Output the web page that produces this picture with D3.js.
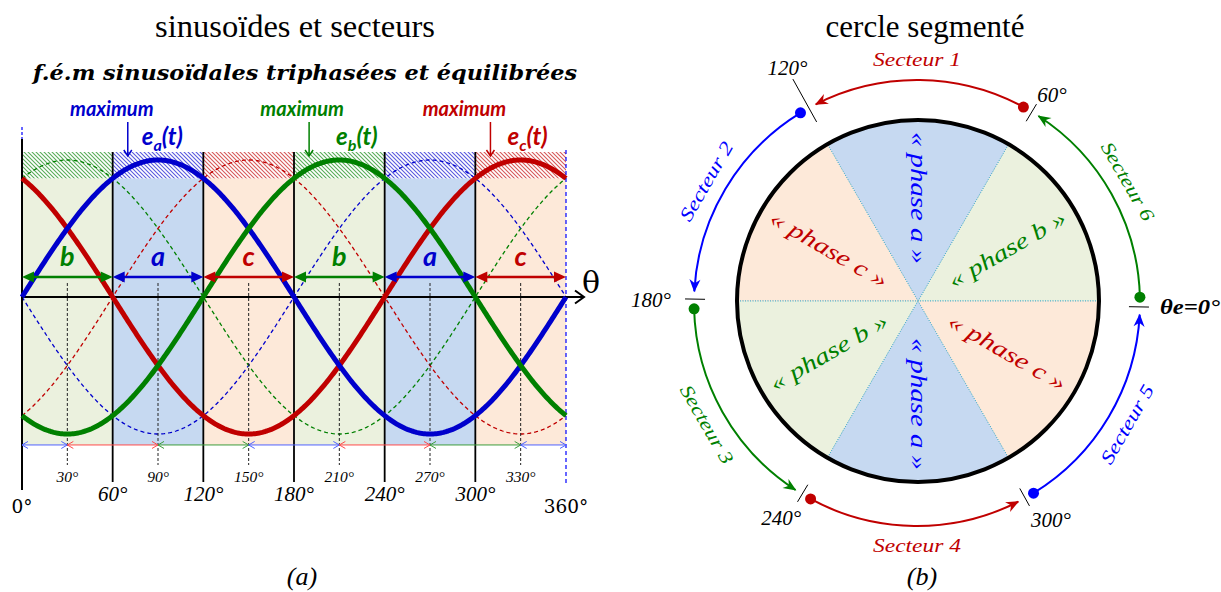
<!DOCTYPE html>
<html>
<head>
<meta charset="utf-8">
<script src="https://cdn.jsdelivr.net/npm/d3@7"></script>
<style>
  html, body { margin: 0; padding: 0; background: #fff; }
  svg { display: block; }
</style>
</head>
<body>
<svg id="fig" width="1221" height="592"></svg>
<script>
// ---------- data ----------
const phaseNames  = ['a', 'b', 'c'];
const phaseShifts = { a: 0, b: 120, c: 240 };           // electrical lag, degrees

const sectorStarts = [0, 60, 120, 180, 240, 300];        // 60° sectors
const sectorPhase  = ['b', 'a', 'c', 'b', 'a', 'c'];     // dominant phase per sector
const majorTicks   = [0, 60, 120, 180, 240, 300, 360];
const majorLabels  = ['0°', '60°', '120°', '180°', '240°', '300°', '360°'];
const minorTicks   = [30, 90, 150, 210, 270, 330];
const minorLabels  = ['30°', '90°', '150°', '210°', '270°', '330°'];

// half-sector spans under the curves
const spanFrom  = [0, 30, 90, 150, 210, 270, 330];
const spanTo    = [30, 90, 150, 210, 270, 330, 360];
const spanPhase = ['a', 'c', 'b', 'a', 'c', 'b', 'a'];

// "maximum" pointers
const maxPhase = ['a', 'b', 'c'];
const maxAngle = [70, 190, 310];

// segmented circle
const arcNames  = ['Secteur 6', 'Secteur 1', 'Secteur 2', 'Secteur 3', 'Secteur 4', 'Secteur 5'];
const arcPhase  = ['b', 'c', 'a', 'b', 'c', 'a'];
const circleTickLabels = ['θe=0°', '60°', '120°', '180°', '240°', '300°'];

// ---------- styles ----------
const colLeft  = { a: '#0000cc', b: '#008000', c: '#c00000' };
const colRight = { a: '#0000ff', b: '#008000', c: '#c00000' };
const colSpan  = { a: '#4f62ff', b: '#3c9c3c', c: '#ff4a4a' };
const colFill  = { a: '#c6d9f1', b: '#ebf1de', c: '#fde9d9' };
const CM = "'DejaVu Serif', serif";
const SERIF = "'Liberation Serif', 'Times New Roman', serif";
const SANS = "Lato, 'Open Sans', sans-serif";

const svg = d3.select('#fig');
const defs = svg.append('defs');
const rad = d => d * Math.PI / 180;

// markers
function solidHead(id, color, w, l) {
  defs.append('marker').attr('id', id).attr('markerUnits', 'userSpaceOnUse')
    .attr('viewBox', '-20 -10 30 20').attr('markerWidth', 30).attr('markerHeight', 20)
    .attr('refX', 0).attr('refY', 0).attr('orient', 'auto-start-reverse')
    .append('path').attr('d', `M4,0L${4 - l},${-w}L${4 - l},${w}Z`).attr('fill', color);
}
function openHead(id, color, w, l, sw) {
  defs.append('marker').attr('id', id).attr('markerUnits', 'userSpaceOnUse')
    .attr('viewBox', '-20 -10 30 20').attr('markerWidth', 30).attr('markerHeight', 20)
    .attr('refX', 0).attr('refY', 0).attr('orient', 'auto-start-reverse')
    .append('path').attr('d', `M${-l},${-w}L0,0L${-l},${w}`).attr('fill', 'none')
    .attr('stroke', color).attr('stroke-width', sw);
}
function stealthHead(id, color) {
  defs.append('marker').attr('id', id).attr('markerUnits', 'userSpaceOnUse')
    .attr('viewBox', '-20 -10 30 20').attr('markerWidth', 30).attr('markerHeight', 20)
    .attr('refX', 0).attr('refY', 0).attr('orient', 'auto')
    .append('path').attr('d', 'M1,0L-12,-5.5L-8,0L-12,5.5Z').attr('fill', color);
}
phaseNames.forEach(p => {
  solidHead('dbl-' + p, colLeft[p], 5.5, 12);
  openHead('thin-' + p, colSpan[p], 3.5, 6, 1);
  openHead('down-' + p, colLeft[p], 4, 6, 1.5);
  stealthHead('arc-' + p, colRight[p]);
  const pat = defs.append('pattern').attr('id', 'hatch-' + p)
    .attr('patternUnits', 'userSpaceOnUse').attr('width', 4).attr('height', 4);
  pat.append('rect').attr('width', 4).attr('height', 4).attr('fill', '#fff');
  pat.append('path').attr('d', 'M-1,-1L5,5M-1,3L1,5M3,-1L5,1')
    .attr('stroke', colLeft[p]).attr('stroke-width', 1.1).attr('stroke-opacity', 0.65);
});
openHead('axis-head', '#000', 6.5, 9, 2);

// ---------- titles ----------
svg.append('text').attr('x', 295).attr('y', 37).attr('text-anchor', 'middle')
  .attr('font-family', SERIF).attr('font-size', 32.5).text('sinusoïdes et secteurs');
svg.append('text').attr('x', 925).attr('y', 37).attr('text-anchor', 'middle')
  .attr('font-family', SERIF).attr('font-size', 31).text('cercle segmenté');
svg.append('text').attr('x', 305).attr('y', 80).attr('text-anchor', 'middle')
  .attr('font-family', CM).attr('font-style', 'italic').attr('font-weight', 'bold')
  .attr('font-size', 20).attr('textLength', 544).attr('lengthAdjust', 'spacingAndGlyphs')
  .text('f.é.m sinusoïdales triphasées et équilibrées');
svg.append('text').attr('x', 302).attr('y', 585).attr('text-anchor', 'middle')
  .attr('font-family', SERIF).attr('font-style', 'italic').attr('font-size', 26).text('(a)');
svg.append('text').attr('x', 922).attr('y', 585).attr('text-anchor', 'middle')
  .attr('font-family', SERIF).attr('font-style', 'italic').attr('font-size', 26).text('(b)');

// ---------- (a) sinusoids ----------
const x = d3.scaleLinear().domain([0, 360]).range([22, 566]);
const y = d3.scaleLinear().domain([-1, 1]).range([434, 160]);
const yBandTop = y(1) - 8;
const yBandBot = y(Math.sin(rad(60)));
const yFloor   = y(-1.08);

const gA = svg.append('g');
sectorStarts.forEach((s, i) => {
  const p = sectorPhase[i];
  gA.append('rect').attr('x', x(s)).attr('width', x(s + 60) - x(s))
    .attr('y', yBandBot).attr('height', yFloor - yBandBot).attr('fill', colFill[p]);
  gA.append('rect').attr('x', x(s)).attr('width', x(s + 60) - x(s))
    .attr('y', yBandTop).attr('height', yBandBot - yBandTop).attr('fill', `url(#hatch-${p})`);
});

const thetas = d3.range(0, 360.01, 1);
const wave = (p, sign) => d3.line()
  .x(t => x(t)).y(t => y(sign * Math.sin(rad(t - phaseShifts[p]))))(thetas);

// mirrored (negative) waves, dashed
phaseNames.forEach(p => {
  gA.append('path').attr('d', wave(p, -1)).attr('fill', 'none')
    .attr('stroke', colLeft[p]).attr('stroke-width', 1.3).attr('stroke-dasharray', '4,3');
});

// sector boundaries
majorTicks.forEach(d => {
  if (d === 360) {
    gA.append('line').attr('x1', x(d)).attr('x2', x(d)).attr('y1', yBandTop - 2).attr('y2', 485)
      .attr('stroke', '#0000ff').attr('stroke-width', 1.2).attr('stroke-dasharray', '4,3');
  } else if (d === 0) {
    gA.append('line').attr('x1', x(d)).attr('x2', x(d)).attr('y1', 139).attr('y2', 490)
      .attr('stroke', '#000').attr('stroke-width', 2);
    gA.append('line').attr('x1', x(d)).attr('x2', x(d)).attr('y1', 127).attr('y2', 139)
      .attr('stroke', '#0000ff').attr('stroke-width', 1.2).attr('stroke-dasharray', '3,2');
  } else {
    gA.append('line').attr('x1', x(d)).attr('x2', x(d)).attr('y1', yBandTop).attr('y2', 482)
      .attr('stroke', '#000').attr('stroke-width', 1.8);
  }
});

// mid-sector guides
minorTicks.forEach(d => {
  gA.append('line').attr('x1', x(d)).attr('x2', x(d)).attr('y1', 283).attr('y2', 465)
    .attr('stroke', '#222').attr('stroke-width', 1).attr('stroke-dasharray', '3,2');
});

// θ axis
gA.append('line').attr('x1', x(0)).attr('x2', 584).attr('y1', y(0)).attr('y2', y(0))
  .attr('stroke', '#000').attr('stroke-width', 2).attr('marker-end', 'url(#axis-head)');
gA.append('text').attr('x', 591).attr('y', 293).attr('text-anchor', 'middle')
  .attr('font-family', CM).attr('font-size', 30).text('θ');

// main waves
['c', 'a', 'b'].forEach(p => {
  gA.append('path').attr('d', wave(p, 1)).attr('fill', 'none')
    .attr('stroke', colLeft[p]).attr('stroke-width', 5).attr('stroke-linejoin', 'round');
});

// sector double arrows with phase letters
const yDbl = 277;
sectorStarts.forEach((s, i) => {
  const p = sectorPhase[i];
  gA.append('line').attr('x1', x(s) + 4).attr('x2', x(s + 60) - 4).attr('y1', yDbl).attr('y2', yDbl)
    .attr('stroke', colLeft[p]).attr('stroke-width', 2.5)
    .attr('marker-start', `url(#dbl-${p})`).attr('marker-end', `url(#dbl-${p})`);
  gA.append('text').attr('x', x(s + 30)).attr('y', yDbl - 11).attr('text-anchor', 'middle')
    .attr('font-family', SANS).attr('font-weight', 'bold').attr('font-style', 'italic')
    .attr('font-size', 27).attr('fill', colLeft[p]).text(p);
});

// half-sector spans
spanFrom.forEach((f, i) => {
  const p = spanPhase[i];
  gA.append('line').attr('x1', x(f)).attr('x2', x(spanTo[i])).attr('y1', yFloor).attr('y2', yFloor)
    .attr('stroke', colSpan[p]).attr('stroke-width', 1)
    .attr('marker-start', `url(#thin-${p})`).attr('marker-end', `url(#thin-${p})`);
});

// tick labels
majorTicks.forEach((d, i) => {
  const edge = (d === 0 || d === 360);
  gA.append('text').attr('x', x(d)).attr('y', edge ? 513 : 501).attr('text-anchor', 'middle')
    .attr('font-family', edge ? CM : SERIF).attr('font-style', edge ? 'normal' : 'italic')
    .attr('font-size', edge ? 18.5 : 21).text(majorLabels[i]);
});
minorTicks.forEach((d, i) => {
  gA.append('text').attr('x', x(d)).attr('y', 482).attr('text-anchor', 'middle')
    .attr('font-family', SERIF).attr('font-style', 'italic').attr('font-size', 15.5).text(minorLabels[i]);
});

// maximum pointers
const maxTextDx = [-16, -7, -26];
const eTextDx = [14, 27, 17];
maxAngle.forEach((d, i) => {
  const p = maxPhase[i];
  const xa = x(d);
  gA.append('text').attr('x', xa + maxTextDx[i]).attr('y', 116).attr('text-anchor', 'middle')
    .attr('font-family', SANS).attr('font-weight', 'bold').attr('font-style', 'italic')
    .attr('font-size', 20).attr('fill', colLeft[p]).text('maximum');
  gA.append('line').attr('x1', xa).attr('x2', xa).attr('y1', 122).attr('y2', 156)
    .attr('stroke', colLeft[p]).attr('stroke-width', 1.5).attr('marker-end', `url(#down-${p})`);
  const t = gA.append('text').attr('x', xa + eTextDx[i]).attr('y', 145)
    .attr('font-family', SANS).attr('font-weight', 'bold').attr('font-style', 'italic')
    .attr('font-size', 24).attr('fill', colLeft[p]);
  t.append('tspan').text('e');
  t.append('tspan').attr('font-size', 16).attr('dy', 6).text(p);
  t.append('tspan').attr('dy', -6).text('(t)');
});

// ---------- (b) segmented circle ----------
const cx = 918, cy = 301, R = 181;
const gB = svg.append('g');
const pieArc = d3.arc().innerRadius(0).outerRadius(R);
sectorStarts.forEach((s, i) => {
  const p = sectorPhase[i];
  gB.append('path')
    .attr('transform', `translate(${cx},${cy})`)
    .attr('d', pieArc({ startAngle: rad(90 - s - 60), endAngle: rad(90 - s) }))
    .attr('fill', colFill[p]).attr('stroke', '#4bacc6').attr('stroke-width', 1)
    .attr('stroke-dasharray', '1,1.5');
});
gB.append('circle').attr('cx', cx).attr('cy', cy).attr('r', R)
  .attr('fill', 'none').attr('stroke', '#000').attr('stroke-width', 4);

// phase labels along each sector's bisector
const norm = a => { let r = ((a % 180) + 180) % 180; if (r > 90) r -= 180; if (r === -90) r = 90; return r; };
sectorStarts.forEach((s, i) => {
  const p = sectorPhase[i];
  const m = s + 30;
  const px = cx + 103 * Math.cos(rad(m)), py = cy - 103 * Math.sin(rad(m));
  gB.append('text').attr('transform', `translate(${px},${py}) rotate(${norm(-m)})`)
    .attr('text-anchor', 'middle').attr('dy', '0.32em')
    .attr('font-family', SERIF).attr('font-style', 'italic').attr('font-size', 23)
    .attr('textLength', 132).attr('lengthAdjust', 'spacingAndGlyphs')
    .attr('fill', colRight[p]).text(`« phase ${p} »`);
});

// sector arcs around the circle
const ax = 917, ay = 303, AR = 223;
const pt = (r, d) => [ax + r * Math.cos(rad(d)), ay - r * Math.sin(rad(d))];
sectorStarts.forEach((s, i) => {
  const p = arcPhase[i];
  const a0 = s + 1.5, a1 = s + 60 - 3;
  const path = d3.path();
  const [sx, sy] = pt(AR, a0);
  path.moveTo(sx, sy);
  path.arc(ax, ay, AR, -rad(a0), -rad(a1), true);
  gB.append('path').attr('d', path.toString()).attr('fill', 'none')
    .attr('stroke', colRight[p]).attr('stroke-width', 2).attr('marker-end', `url(#arc-${p})`);
  gB.append('circle').attr('cx', sx).attr('cy', sy).attr('r', 5.5).attr('fill', colRight[p]);
  const m = s + 30;
  const [lx, ly] = pt(243, m);
  gB.append('text').attr('transform', `translate(${lx},${ly}) rotate(${norm(90 - m)})`)
    .attr('text-anchor', 'middle').attr('dy', '0.32em')
    .attr('font-family', SERIF).attr('font-style', 'italic').attr('font-size', 19)
    .attr('textLength', 88).attr('lengthAdjust', 'spacingAndGlyphs')
    .attr('fill', colRight[p]).text(arcNames[i]);
});

// boundary ticks and their labels
const tickLabelPolar = [[0, 0], [57, 248], [118.9, 268], [179.4, 266], [237.7, 254], [301.7, 255]];
sectorStarts.forEach((s, i) => {
  const a = s - 1;
  const [r0, r1] = s === 120 ? [207, 256] : [212, 232];
  const [x0, y0] = pt(r0, a), [x1, y1] = pt(r1, a);
  gB.append('line').attr('x1', x0).attr('y1', y0).attr('x2', x1).attr('y2', y1)
    .attr('stroke', '#000').attr('stroke-width', 1);
  if (i === 0) {
    gB.append('text').attr('x', 1160).attr('y', 314)
      .attr('font-family', SERIF).attr('font-style', 'italic').attr('font-weight', 'bold')
      .attr('font-size', 22).attr('textLength', 60).attr('lengthAdjust', 'spacingAndGlyphs')
      .text(circleTickLabels[i]);
  } else {
    const [lx, ly] = pt(tickLabelPolar[i][1], tickLabelPolar[i][0]);
    gB.append('text').attr('x', lx).attr('y', ly).attr('dy', '0.33em').attr('text-anchor', 'middle')
      .attr('font-family', SERIF).attr('font-style', 'italic').attr('font-size', 21)
      .text(circleTickLabels[i]);
  }
});
</script>
</body>
</html>
